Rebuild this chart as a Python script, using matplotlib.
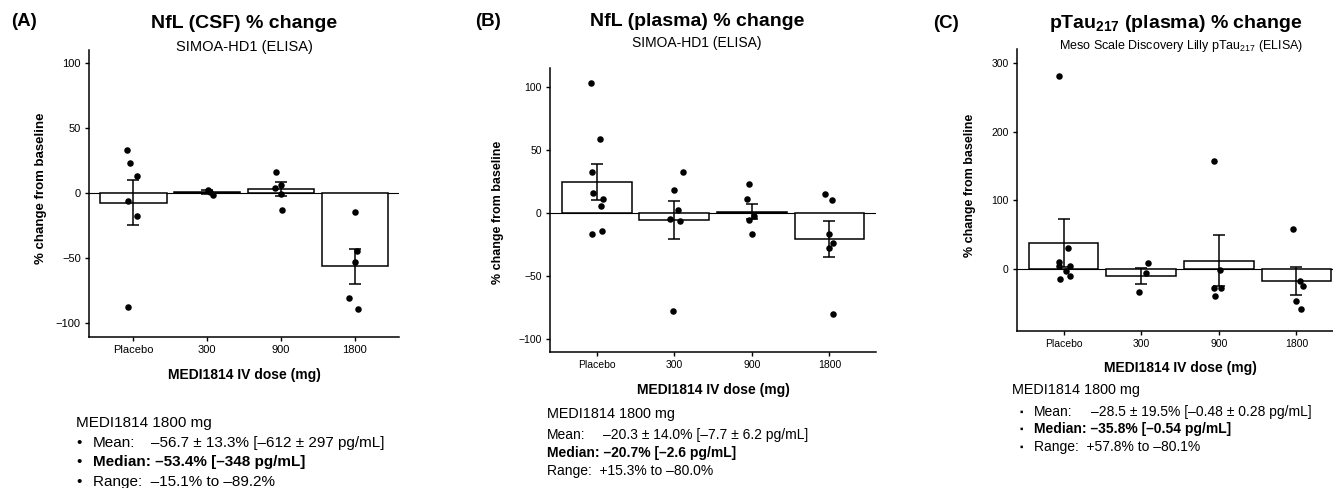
import numpy as np
import matplotlib.pyplot as plt

plt.rcParams['font.family'] = ['Liberation Sans', 'DejaVu Sans']
plt.rcParams['mathtext.fontset'] = 'custom'
plt.rcParams['mathtext.rm'] = 'Liberation Sans'
plt.rcParams['mathtext.bf'] = 'Liberation Sans:bold'
plt.rcParams['mathtext.default'] = 'regular'

doses = ['Placebo', '300', '900', '1800']

# panel A: NfL (CSF)
csf_mean = [-7.5, 0.7, 2.8, -56.7]
csf_se = [17.5, 1.5, 5.5, 13.3]
csf_pts = [[33, 23, 13, -6, -18, -88],
           [2.5, 0.5, -1.5],
           [16, 4, 6, -1, -13],
           [-15.1, -45, -53.4, -81, -89.2]]
csf_jit = [[-0.08, -0.05, 0.05, -0.07, 0.05, -0.07],
           [0.01, 0.04, 0.08],
           [-0.07, -0.08, 0.0, 0.0, 0.01],
           [0.0, 0.03, 0.01, -0.08, 0.05]]

# panel B: NfL (plasma)
pl_mean = [24.6, -5.8, 1.0, -20.3]
pl_se = [14.5, 15.0, 6.0, 14.3]
pl_pts = [[103.5, 58.5, 32.5, 16, 11, 5.5, -16.4, -14.5],
          [32.5, 18.5, 2, -4.8, -6.3, -78],
          [22.8, 11, -2.4, -5.8, -16.4],
          [15.3, 10.6, -17, -24, -27.5, -80]]
pl_jit = [[-0.07, 0.04, -0.06, -0.05, 0.08, 0.06, -0.06, 0.07],
          [0.11, 0.0, 0.05, -0.05, 0.08, -0.02],
          [-0.04, -0.06, 0.03, -0.04, 0.0],
          [-0.06, 0.03, -0.01, 0.04, 0.0, 0.05]]

# panel C: pTau217 (plasma)
pt_mean = [37.7, -9.8, 12.5, -17.0]
pt_se = [34.7, 11.2, 37.0, 20.0]
pt_pts = [[281, 30.4, 9.6, 4.8, 3.8, -3.4, -9.7, -14],
          [8.7, -5.8, -33.9],
          [157, -1, -27.5, -27.5, -39.7],
          [57.8, -18, -25, -47, -58]]
pt_jit = [[-0.06, 0.06, -0.06, -0.06, 0.08, 0.03, 0.08, -0.04],
          [0.09, 0.06, -0.03],
          [-0.06, 0.01, -0.06, 0.03, -0.05],
          [-0.05, 0.04, 0.08, 0.0, 0.06]]

W, H = 1333, 488
fig = plt.figure(figsize=(W / 100, H / 100), dpi=100)


def px(x, y):
    return x / W, 1 - y / H


def panel(rect, mean, se, pts, jit, ylim, yticks, tsize):
    ax = fig.add_axes(rect)
    x = np.arange(len(doses))
    ax.axhline(0, color='black', lw=0.8, zorder=1)
    ax.bar(x, mean, width=0.9, color='white', edgecolor='black', lw=1.1, zorder=2)
    ax.errorbar(x, mean, yerr=se, fmt='none', ecolor='black', elinewidth=1.1,
                capsize=4.5, capthick=1.1, zorder=3)
    for i in range(len(doses)):
        ax.scatter(x[i] + np.array(jit[i]), pts[i], s=22, color='black', zorder=4,
                   linewidths=0)
    ax.set_xlim(-0.6, 3.6)
    ax.set_ylim(*ylim)
    ax.set_xticks(x)
    ax.set_xticklabels(doses)
    ax.set_yticks(yticks)
    ax.tick_params(labelsize=tsize, length=3, width=1, pad=3)
    for s in ['top', 'right']:
        ax.spines[s].set_visible(False)
    for s in ['left', 'bottom']:
        ax.spines[s].set_linewidth(1.1)
    return ax


panel([89 / W, 1 - 337 / H, 310 / W, 287 / H], csf_mean, csf_se, csf_pts, csf_jit,
      (-111, 110), [-100, -50, 0, 50, 100], 8)
panel([550 / W, 1 - 351.7 / H, 326 / W, 283.7 / H], pl_mean, pl_se, pl_pts, pl_jit,
      (-110, 115), [-100, -50, 0, 50, 100], 7.5)
panel([1017 / W, 1 - 331 / H, 326 / W, 282 / H], pt_mean, pt_se, pt_pts, pt_jit,
      (-90, 320), [0, 100, 200, 300], 7.5)

# panel letters and titles
for lab, (lx, ly) in zip(['(A)', '(B)', '(C)'], [(11, 22), (475, 21), (933, 23)]):
    fig.text(*px(lx, ly), lab, fontsize=13.5, fontweight='bold', va='center', ha='left')

fig.text(*px(244, 23), 'NfL (CSF) % change', fontsize=14, fontweight='bold', ha='center', va='center')
fig.text(*px(244, 47), 'SIMOA-HD1 (ELISA)', fontsize=10.5, ha='center', va='center')
fig.text(*px(697, 22), 'NfL (plasma) % change', fontsize=14, fontweight='bold', ha='center', va='center')
fig.text(*px(697, 43), 'SIMOA-HD1 (ELISA)', fontsize=10, ha='center', va='center')
fig.text(*px(1176, 23), r'pTau$_\mathbf{217}$ (plasma) % change', fontsize=14, fontweight='bold',
         ha='center', va='center')
fig.text(*px(1181, 46), r'Meso Scale Discovery Lilly pTau$_{217}$ (ELISA)', fontsize=9,
         ha='center', va='center')

# axis labels
for (lx, ly), fs in zip([(41, 188), (498, 212), (970, 185)], [9.5, 9, 9]):
    fig.text(*px(lx, ly), '% change from baseline', rotation=90, fontsize=fs,
             fontweight='bold', ha='center', va='center')
for (lx, ly), fs in zip([(244, 375), (713, 390), (1180, 368)], [10, 10, 10]):
    fig.text(*px(lx, ly), 'MEDI1814 IV dose (mg)', fontsize=fs, fontweight='bold',
             ha='center', va='center')

# summary text, panel A
fig.text(*px(76, 423), 'MEDI1814 1800 mg', fontsize=11, va='center')
for y in [443, 462, 482]:
    fig.text(*px(76, y), '\u2022', fontsize=11, va='center')
fig.text(*px(93, 443), 'Mean:', fontsize=11, va='center')
fig.text(*px(151, 443), '\u201356.7 \u00b1 13.3% [\u2013612 \u00b1 297 pg/mL]', fontsize=11, va='center')
fig.text(*px(93, 462), 'Median: \u201353.4% [\u2013348 pg/mL]', fontsize=11, fontweight='bold', va='center')
fig.text(*px(93, 482), 'Range:  \u201315.1% to \u201389.2%', fontsize=11, va='center')

# summary text, panel B
fig.text(*px(547, 414), 'MEDI1814 1800 mg', fontsize=10.4, va='center')
fig.text(*px(547, 435), 'Mean:', fontsize=10, va='center')
fig.text(*px(603, 435), '\u201320.3 \u00b1 14.0% [\u20137.7 \u00b1 6.2 pg/mL]', fontsize=10, va='center')
fig.text(*px(547, 453), 'Median: \u201320.7% [\u20132.6 pg/mL]', fontsize=10, fontweight='bold', va='center')
fig.text(*px(547, 471), 'Range:  +15.3% to \u201380.0%', fontsize=10, va='center')

# summary text, panel C
fig.text(*px(1012, 390), 'MEDI1814 1800 mg', fontsize=10.4, va='center')
for y in [412, 429, 447]:
    fig.text(*px(1019, y), '\u25aa', fontsize=7, va='center')
fig.text(*px(1034, 412), 'Mean:', fontsize=10, va='center')
fig.text(*px(1091, 412), '\u201328.5 \u00b1 19.5% [\u20130.48 \u00b1 0.28 pg/mL]', fontsize=10, va='center')
fig.text(*px(1034, 429), 'Median: \u201335.8% [\u20130.54 pg/mL]', fontsize=10, fontweight='bold', va='center')
fig.text(*px(1034, 447), 'Range:  +57.8% to \u201380.1%', fontsize=10, va='center')

fig.savefig('out.png', dpi=100)
